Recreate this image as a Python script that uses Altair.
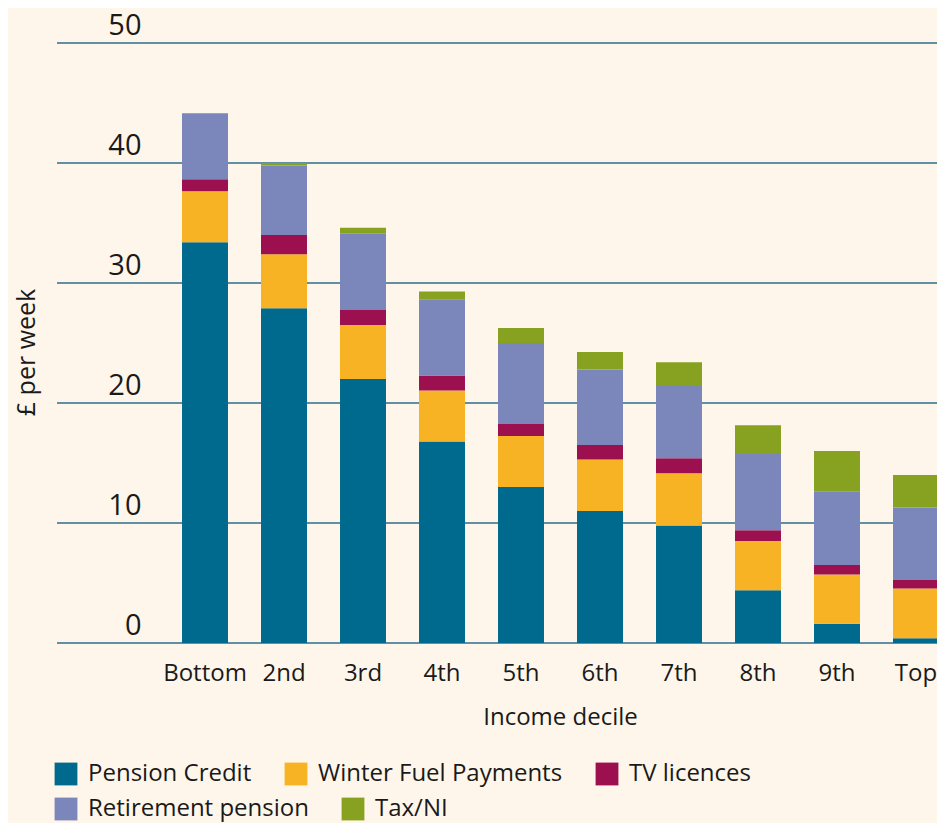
import altair as alt
import pandas as pd

deciles = ["Bottom", "2nd", "3rd", "4th", "5th", "6th", "7th", "8th", "9th", "Top"]
series = ["Pension Credit", "Winter Fuel Payments", "TV licences", "Retirement pension", "Tax/NI"]
colors = ["#006a8e", "#f7b323", "#9c1050", "#7b86bb", "#87a220"]
grid_values = [0, 10, 20, 30, 40, 50]

pension_credit = [33.4, 27.9, 22.0, 16.8, 13.0, 11.0, 9.8, 4.4, 1.6, 0.4]
winter_fuel = [4.25, 4.5, 4.5, 4.25, 4.25, 4.3, 4.35, 4.1, 4.1, 4.15]
tv_licences = [1.0, 1.6, 1.25, 1.25, 1.0, 1.2, 1.25, 0.9, 0.8, 0.7]
retirement_pension = [5.5, 5.8, 6.35, 6.35, 6.75, 6.3, 6.1, 6.35, 6.15, 6.05]
tax_ni = [0.0, 0.2, 0.5, 0.65, 1.25, 1.45, 1.9, 2.4, 3.35, 2.7]

values = [pension_credit, winter_fuel, tv_licences, retirement_pension, tax_ni]
rows = []
for si, (name, vals) in enumerate(zip(series, values)):
    for d, v in zip(deciles, vals):
        rows.append({"decile": d, "series": name, "order": si, "value": v})
df = pd.DataFrame(rows)
grid_df = pd.DataFrame({"g": grid_values})

FONT = "Open Sans"
TEXT = "#1a1a1a"
W, H = 880, 600

y_scale = alt.Scale(domain=[0, 50], nice=False, zero=True)
y_axis = alt.Axis(title="£ per week", values=grid_values,
                  domain=False, ticks=False, grid=False,
                  labelFontSize=29, labelAlign="right",
                  labelBaseline="line-bottom", labelLineHeight=34, labelPadding=-84,
                  labelColor=TEXT, labelFont=FONT,
                  labelOverlap=False, labelFlush=False, labelBound=False,
                  titleFontSize=25, titleFont=FONT, titleFontWeight="normal",
                  titleColor=TEXT, titleX=-31, titleY=309, titleAngle=270,
                  titleAlign="center", titleBaseline="middle")
x_scale = alt.Scale(range=[108.5, 898.5], paddingInner=0.418, paddingOuter=0.209)
x_axis = alt.Axis(title="Income decile", labelAngle=0, domain=False, ticks=False,
                  labelFontSize=24, labelPadding=37, labelBaseline="alphabetic",
                  labelColor=TEXT, labelFont=FONT,
                  titleFontSize=24, titleFont=FONT, titleFontWeight="normal",
                  titleColor=TEXT, titleX=503, titleY=74, titleBaseline="middle",
                  titleAlign="center")

def legend(y):
    return alt.Legend(title=None, orient="none", legendX=-3, legendY=y,
                      direction="horizontal", symbolType="square", symbolSize=520,
                      symbolStrokeWidth=0, labelFontSize=24,
                      labelFont=FONT, labelColor=TEXT, labelOffset=10,
                      columnPadding=32, padding=0, labelLimit=400)

gridlines = alt.Chart(grid_df).mark_rule(color="#2c6e8c", strokeWidth=1.5).encode(
    y=alt.Y("g:Q", scale=y_scale, axis=y_axis),
    x=alt.value(0),
    x2=alt.value(W),
)

base = alt.Chart(df).transform_stack(
    stack="value", groupby=["decile"], as_=["y0", "y1"],
    sort=[alt.SortField("order", order="ascending")],
)

bars_a = base.transform_filter(alt.datum.order < 3).mark_bar().encode(
    x=alt.X("decile:N", sort=deciles, scale=x_scale, axis=x_axis),
    y=alt.Y("y0:Q", scale=y_scale, axis=y_axis),
    y2="y1:Q",
    color=alt.Color("series:N", sort=series[:3],
                    scale=alt.Scale(domain=series[:3], range=colors[:3]),
                    legend=legend(719)),
)

bars_b = base.transform_filter(alt.datum.order >= 3).mark_bar().encode(
    x=alt.X("decile:N", sort=deciles, scale=x_scale, axis=x_axis),
    y=alt.Y("y0:Q", scale=y_scale, axis=y_axis),
    y2="y1:Q",
    fill=alt.Fill("series:N", sort=series[3:],
                  scale=alt.Scale(domain=series[3:], range=colors[3:]),
                  legend=legend(754)),
)

chart = alt.layer(gridlines, bars_a, bars_b).properties(
    width=W, height=H,
    autosize=alt.AutoSizeParams(type="none"),
    padding={"left": 49, "top": 35, "right": 0, "bottom": 180},
    background="#fef6ea",
).configure_view(stroke=None)

chart.save("out.html", embed_options={"renderer": "svg", "actions": False})
